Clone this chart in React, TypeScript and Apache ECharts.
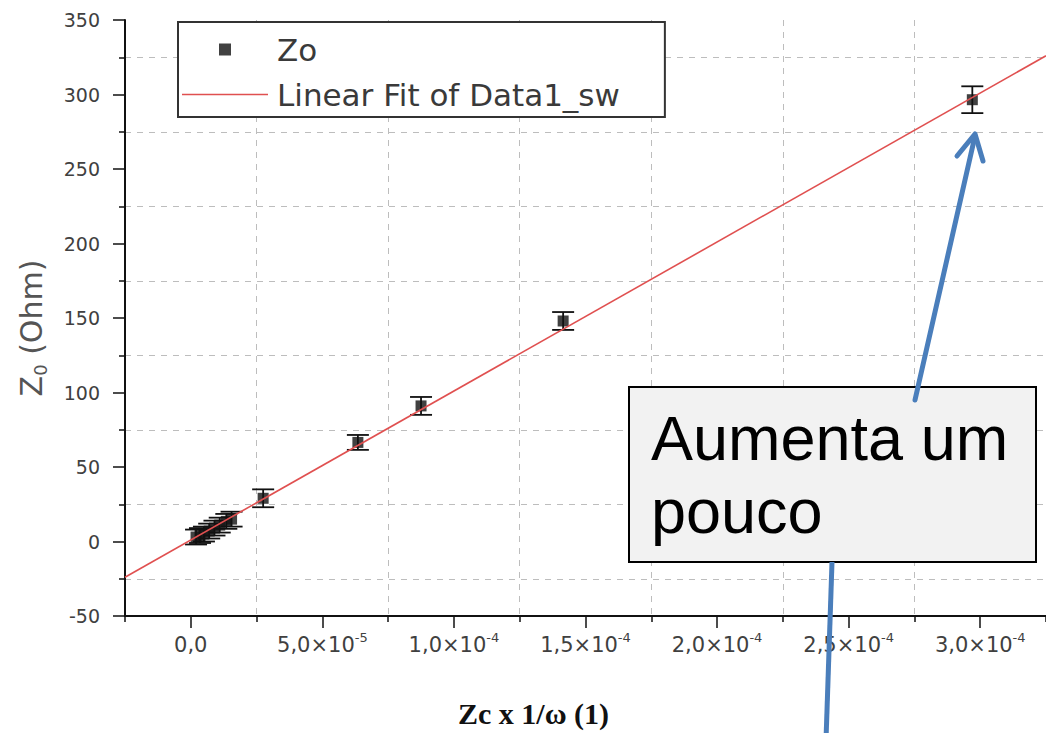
import React, { useEffect, useRef } from "react";
import * as echarts from "echarts";

// ---- data ----
const zoX = [2.0e-6, 3.5e-6, 5.0e-6, 7.0e-6, 9.0e-6, 1.1e-5, 1.35e-5, 1.55e-5, 2.75e-5, 6.35e-5, 8.75e-5, 1.415e-4, 2.97e-4];
const zoY = [3, 4, 5, 7, 9, 11, 13.5, 15, 29, 66.5, 91, 148, 296.5];
const zoErr = [5, 5, 5, 5, 5, 5, 5, 5, 6, 5, 6, 6, 9];

const fitX = [-2.5e-5, 3.25e-4];
const fitY = [-24, 326];

const xTickValues = [0, 5e-5, 1e-4, 1.5e-4, 2e-4, 2.5e-4, 3e-4];
const xTickMantissa = ["0,0", "5,0×10", "1,0×10", "1,5×10", "2,0×10", "2,5×10", "3,0×10"];
const xTickExponent = ["", "-5", "-4", "-4", "-4", "-4", "-4"];

const xMin = -2.5e-5;
const xMax = 3.25e-4;
const yMin = -50;
const yMax = 350;
const yStep = 50;

const seriesNames = ["Zo", "Linear Fit of Data1_sw"];
const annotationLines = ["Aumenta um", "pouco"];

const SANS = "DejaVu Sans";
const gridLine = { color: "#bdbdbd", type: [6, 6] as any, width: 1 };

export default function App() {
  const ref = useRef<HTMLDivElement>(null);

  useEffect(() => {
    if (!ref.current) return;
    const chart = echarts.init(ref.current, undefined, { renderer: "svg" });

    const option: any = {
      animation: false,
      backgroundColor: "#ffffff",
      grid: { left: 125, top: 20, width: 921, height: 600, containLabel: false },
      legend: {
        orient: "vertical",
        left: 178,
        top: 22,
        padding: [12, 45, 7, 4],
        itemGap: 14,
        itemWidth: 86,
        itemHeight: 12,
        borderColor: "#333",
        borderWidth: 2,
        borderRadius: 0,
        backgroundColor: "#ffffff",
        textStyle: { fontFamily: SANS, fontSize: 31, color: "#3a3a3a", padding: [0, 0, 0, 4] },
        data: [
          { name: seriesNames[0], icon: "path://M0,0L10,0L10,10L0,10Z", itemStyle: { color: "#111" } },
          { name: seriesNames[1], icon: "path://M0,0L86,0L86,1.6L0,1.6Z", itemStyle: { color: "#e05050" } },
        ],
      },
      xAxis: [
        {
          type: "value",
          min: xMin,
          max: xMax,
          interval: 2.5e-5,
          position: "bottom",
          name: "Zc x 1/ω (1)",
          nameLocation: "middle",
          nameGap: 82,
          nameTextStyle: {
            fontFamily: "Liberation Serif",
            fontWeight: "bold",
            fontSize: 30,
            color: "#111",
            padding: [0, 104, 0, 0],
          },
          axisLine: { show: true, onZero: false, lineStyle: { color: "#111", width: 2 } },
          axisTick: { show: true, customValues: xTickValues, length: 12, lineStyle: { color: "#111", width: 1.5 } },
          axisLabel: {
            show: true,
            customValues: xTickValues,
            margin: 15,
            formatter: (v: number) => {
              const i = xTickValues.findIndex((t) => Math.abs(t - v) < 1e-10);
              if (i < 0) return "";
              return xTickExponent[i]
                ? `{m|${xTickMantissa[i]}}{e|${xTickExponent[i]}}`
                : `{m|${xTickMantissa[i]}}`;
            },
            rich: {
              m: { fontFamily: SANS, fontSize: 21, color: "#404040", lineHeight: 28 },
              e: { fontFamily: SANS, fontSize: 13, color: "#404040", lineHeight: 13, verticalAlign: "top" },
            },
          },
          splitLine: { show: false },
        },
        {
          type: "value",
          min: xMin,
          max: xMax,
          interval: 5e-5,
          position: "bottom",
          axisLine: { show: false, onZero: false },
          axisTick: { show: true, length: 6, lineStyle: { color: "#111", width: 1.5 } },
          axisLabel: { show: false },
          splitLine: { show: true, lineStyle: gridLine },
        },
      ],
      yAxis: {
        type: "value",
        min: yMin,
        max: yMax,
        interval: yStep,
        name: "{z|Z}{s|0}{z| (Ohm)}",
        nameLocation: "middle",
        nameGap: 76,
        nameRotate: 90,
        nameTextStyle: {
          padding: [0, 20, 0, 0],
          rich: {
            z: { fontFamily: SANS, fontSize: 30, color: "#555", lineHeight: 36 },
            s: { fontFamily: SANS, fontSize: 18, color: "#555", lineHeight: 18, verticalAlign: "bottom" },
          },
        },
        axisLine: { show: true, onZero: false, lineStyle: { color: "#111", width: 2 } },
        axisTick: { show: true, length: 12, lineStyle: { color: "#111", width: 1.5 } },
        minorTick: { show: true, splitNumber: 2, length: 6, lineStyle: { color: "#111", width: 1.5 } },
        axisLabel: { margin: 25, fontFamily: SANS, fontSize: 19, color: "#404040" },
        splitLine: { show: false },
        minorSplitLine: { show: true, lineStyle: gridLine },
      },
      series: [
        {
          name: seriesNames[0] + " error",
          type: "custom",
          xAxisIndex: 0,
          z: 3,
          encode: { x: 0, y: 1 },
          data: zoX.map((x, i) => [x, zoY[i], zoErr[i]]),
          renderItem: (params: any, api: any) => {
            const x = api.value(0);
            const y = api.value(1);
            const e = api.value(2);
            const c = api.coord([x, y]);
            const t = api.coord([x, y + e]);
            const b = api.coord([x, y - e]);
            const w = 11;
            const style = { stroke: "#111", lineWidth: 1.8 };
            return {
              type: "group",
              children: [
                { type: "line", shape: { x1: c[0], y1: t[1], x2: c[0], y2: b[1] }, style },
                { type: "line", shape: { x1: c[0] - w, y1: t[1], x2: c[0] + w, y2: t[1] }, style },
                { type: "line", shape: { x1: c[0] - w, y1: b[1], x2: c[0] + w, y2: b[1] }, style },
              ],
            };
          },
        },
        {
          name: seriesNames[0],
          type: "scatter",
          xAxisIndex: 0,
          z: 4,
          symbol: "rect",
          symbolSize: 11,
          itemStyle: { color: "#111" },
          data: zoX.map((x, i) => [x, zoY[i]]),
        },
        {
          name: seriesNames[1],
          type: "line",
          xAxisIndex: 0,
          z: 5,
          symbol: "none",
          showSymbol: false,
          lineStyle: { color: "#e05050", width: 1.6 },
          itemStyle: { color: "#e05050" },
          data: fitX.map((x, i) => [x, fitY[i]]),
        },
      ],
      graphic: [
        {
          type: "rect",
          z: 100,
          shape: { x: 629, y: 387, width: 407, height: 175 },
          style: { fill: "#f2f2f2", stroke: "#000", lineWidth: 2 },
        },
        {
          type: "text",
          z: 101,
          x: 651,
          y: 438,
          style: { text: annotationLines[0], fontFamily: "Liberation Sans", fontSize: 63, fill: "#000", verticalAlign: "middle", align: "left" },
        },
        {
          type: "text",
          z: 101,
          x: 651,
          y: 511,
          style: { text: annotationLines[1], fontFamily: "Liberation Sans", fontSize: 63, fill: "#000", verticalAlign: "middle", align: "left" },
        },
        {
          type: "line",
          z: 102,
          shape: { x1: 915, y1: 400, x2: 975, y2: 136 },
          style: { stroke: "#4a7ebb", lineWidth: 5, lineCap: "round" },
        },
        {
          type: "polyline",
          z: 102,
          shape: { points: [[957, 156], [975, 134], [983, 161]] },
          style: { stroke: "#4a7ebb", lineWidth: 5, lineCap: "round", lineJoin: "round", fill: "none" },
        },
        {
          type: "line",
          z: 102,
          shape: { x1: 832, y1: 562, x2: 826, y2: 740 },
          style: { stroke: "#4a7ebb", lineWidth: 5 },
        },
      ],
    };

    chart.setOption(option);
    return () => chart.dispose();
  }, []);

  return (
    <div
      ref={ref}
      style={{ position: "absolute", left: 0, top: 0, width: 1046, height: 733, background: "#fff" }}
    />
  );
}
